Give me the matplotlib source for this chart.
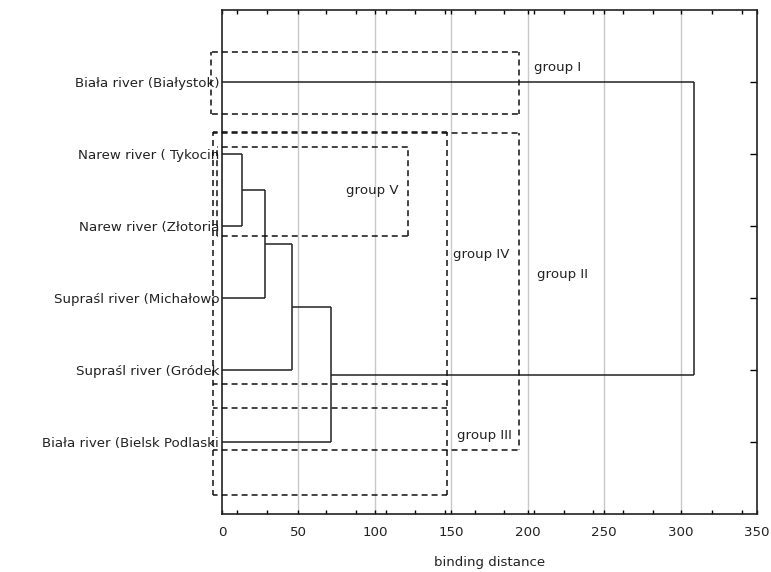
import numpy as np
import matplotlib
matplotlib.use("Agg")
import matplotlib.pyplot as plt

plt.rcParams['font.family'] = ['DejaVu Sans']
plt.rcParams['lines.scale_dashes'] = False

# ---- data ----
leaf_labels = ["Biała river (Białystok)", "Narew river ( Tykocin", "Narew river (Złotoria",
               "Supraśl river (Michałowo", "Supraśl river (Gródek", "Biała river (Bielsk Podlaski"]
leaf_positions = [6, 5, 4, 3, 2, 1]
# merges: (child_a, child_b, binding distance); new clusters numbered from len(leaves)
merge_a = [1, 6, 7, 8, 9]
merge_b = [2, 3, 4, 5, 0]
merge_dist = [13.2, 28.0, 46.0, 71.0, 309.0]

# group boxes: (x0, y0, x1, y1)
group_boxes = [(-7.5, 5.55, 194, 6.41),   # group I
               (-6.0, 0.885, 194, 5.285), # group II
               (-6.0, 1.81, 147, 5.305),  # group IV
               (-6.0, 0.26, 147, 5.285),  # outer box
               (-6.0, 0.885, 147, 1.47),  # group III
               (-3.5, 3.86, 122, 5.10)]   # group V
group_names = ["group I", "group II", "group IV", "group III", "group V"]
group_label_x = [204, 206, 151, 154, 81]
group_label_y = [6.2, 3.33, 3.61, 1.09, 4.49]

x_ticks = [0, 50, 100, 150, 200, 250, 300, 350]
x_label = "binding distance"

FS = 9.6
# ---- figure ----
W, H = 771, 572
L, R, B, T = 222, 757, 514, 10
fig = plt.figure(figsize=(W/100, H/100), dpi=100)
ax = fig.add_axes([L/W, (H-B)/H, (R-L)/W, (B-T)/H])
XMAX, YMAX = 350, 7
ax.set_xlim(0, XMAX)
ax.set_ylim(0, YMAX)
px_per_x = (R - L) / XMAX
px_per_y = (B - T) / YMAX

for gx in x_ticks[1:-1]:
    ax.axvline(gx, color='#c8c8c8', lw=1.0, zorder=0)

# dendrogram
node_x = {i: 0.0 for i in range(len(leaf_labels))}
node_y = {i: float(p) for i, p in enumerate(leaf_positions)}
for k, (a, b, d) in enumerate(zip(merge_a, merge_b, merge_dist)):
    nid = len(leaf_labels) + k
    for c in (a, b):
        ax.plot([node_x[c], d], [node_y[c], node_y[c]], color='#222222', lw=1.1,
                solid_capstyle='butt', zorder=3)
    ax.plot([d, d], [node_y[a], node_y[b]], color='#222222', lw=1.1,
            solid_capstyle='butt', zorder=3)
    node_x[nid] = d
    node_y[nid] = (node_y[a] + node_y[b]) / 2

# dashed group boxes: collect edges, merge coincident ones, draw each once
ON, OFF = 4.3, 2.9
PERIOD = ON + OFF
edges = {}
for (x0, y0, x1, y1) in group_boxes:
    edges.setdefault(('h', y1), []).append((x0, x1))
    edges.setdefault(('h', y0), []).append((x0, x1))
    edges.setdefault(('v', x0), []).append((y0, y1))
    edges.setdefault(('v', x1), []).append((y0, y1))

for (orient, c), spans in edges.items():
    spans = sorted(spans)
    merged = [list(spans[0])]
    for a, b in spans[1:]:
        if a <= merged[-1][1]:
            merged[-1][1] = max(merged[-1][1], b)
        else:
            merged.append([a, b])
    for a, b in merged:
        if orient == 'h':
            off_pt = ((a + 20) * px_per_x * 0.72) % PERIOD
            xs, ys = [a, b], [c, c]
        else:
            off_pt = ((YMAX - b) * px_per_y * 0.72) % PERIOD
            xs, ys = [c, c], [b, a]
        ax.plot(xs, ys, color='#111111', lw=1.1, linestyle=(off_pt, (ON, OFF)),
                clip_on=False, zorder=4, dash_capstyle='butt')

for name, gx, gy in zip(group_names, group_label_x, group_label_y):
    ax.text(gx, gy, name, fontsize=FS, ha='left', va='center', color='#222222', zorder=5)

# ticks
ax.set_yticks(leaf_positions)
ax.set_yticklabels(leaf_labels, fontsize=FS, color='#222222')
ax.tick_params(axis='y', which='major', left=False, right=True, direction='in',
               length=5, width=1, pad=2)
ax.set_xticks(x_ticks)
ax.set_xticklabels([str(t) for t in x_ticks], fontsize=FS, color='#222222')
minor = [t for t in np.linspace(10, 340, 18) if min(abs(t - m) for m in x_ticks) > 3]
ax.set_xticks(minor, minor=True)
ax.tick_params(axis='x', which='both', bottom=True, top=True, direction='in',
               length=3, width=1, pad=9)
ax.set_xlabel(x_label, fontsize=FS, color='#222222', labelpad=12)

for s in ax.spines.values():
    s.set_linewidth(1.2)
    s.set_color('#222222')

fig.savefig("out.png", dpi=100)
